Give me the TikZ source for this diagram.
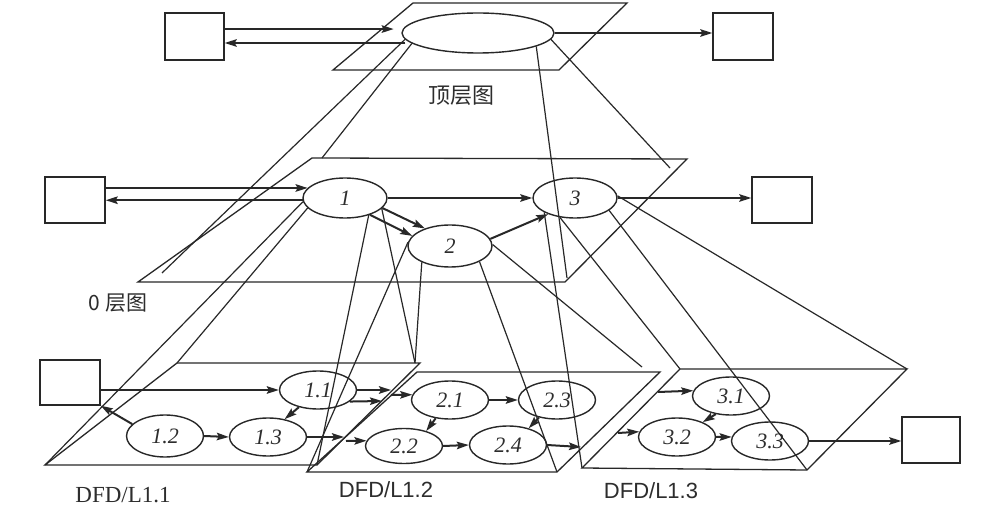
\documentclass[tikz,border=0pt]{standalone}
\usepackage{fontspec}
\setmainfont{Liberation Serif}
\newfontfamily\sansf{Liberation Sans}
\newfontfamily\cjkf{Noto Sans CJK SC}
\usetikzlibrary{shapes.geometric,arrows.meta}
\definecolor{lc}{RGB}{40,40,40}
\definecolor{tc}{RGB}{45,45,45}
\begin{document}
\begin{tikzpicture}[x=1pt,y=-1pt,
  plane/.style={draw=lc,line width=1.3pt,line join=miter},
  proj/.style={draw=lc,line width=1.2pt},
  arr/.style={draw=lc,line width=2pt,-{Stealth[length=12pt,width=7.5pt,inset=2pt]}},
  proc/.style={ellipse,draw=lc,line width=1.4pt,inner sep=0pt,minimum width=77pt,minimum height=38pt,font=\fontsize{22}{22}\selectfont\itshape,text=tc},
  ext/.style={rectangle,draw=lc,line width=1.4pt,inner sep=0pt,minimum width=60pt,minimum height=46pt},
  lab/.style={text=tc,inner sep=0pt}]
\fill[white] (0,0) rectangle (989,513);
\useasboundingbox (0,0) rectangle (989,513);

% ---------- planes ----------
\coordinate (tp1) at (333,70);  \coordinate (tp2) at (559,70);
\coordinate (tp3) at (627,3);   \coordinate (tp4) at (413,3);
\coordinate (zp1) at (138,282); \coordinate (zp2) at (565,282);
\coordinate (zp3) at (687,159); \coordinate (zp4) at (312,158);
\coordinate (ap1) at (45,465);  \coordinate (ap2) at (317,465);
\coordinate (ap3) at (420,363); \coordinate (ap4) at (177,363);
\coordinate (bp1) at (307,472); \coordinate (bp2) at (557,472);
\coordinate (bp3) at (660,372); \coordinate (bp4) at (417,372);
\coordinate (cp1) at (582,468); \coordinate (cp2) at (807,470);
\coordinate (cp3) at (907,369); \coordinate (cp4) at (680,369);
\draw[plane] (tp1) -- (tp2) -- (tp3) -- (tp4) -- cycle;
\draw[plane] (zp1) -- (zp2) -- (zp3) -- (zp4) -- cycle;
\draw[plane] (ap1) -- (ap2) -- (ap3) -- (ap4) -- cycle;
\draw[plane] (bp1) -- (bp2) -- (bp3) -- (bp4) -- cycle;
\draw[plane] (cp1) -- (cp2) -- (cp3) -- (cp4) -- cycle;

% ---------- top level ----------
\node[ext,minimum width=59pt,minimum height=47pt] (bTL) at (194.5,36.5) {};
\node[ext,minimum width=60pt,minimum height=47pt] (bTR) at (743,36.5) {};
\node[proc,minimum width=152pt,minimum height=40pt] (T) at (478,33) {};
\node[lab,font=\cjkf\fontsize{22}{22}\selectfont] (lt) at (461,96) {顶层图};

% ---------- level 0 ----------
\node[ext] (bL0) at (75,200) {};
\node[ext] (bR0) at (782,200) {};
\node[proc,minimum width=84pt,minimum height=40pt] (E1) at (345,198) {1};
\node[proc,minimum width=84pt,minimum height=42pt] (E2) at (450,246) {2};
\node[proc,minimum width=84pt,minimum height=40pt] (E3) at (575,198) {3};
\node[lab,font=\cjkf\fontsize{21}{21}\selectfont] (l0) at (118,303) {0 层图};

% ---------- level 1 ----------
\node[ext,minimum height=45pt] (bL1) at (70,382.5) {};
\node[ext,minimum width=58pt] (bR1) at (931,440) {};
\node[proc] (e11) at (318,390) {1.1};
\node[proc,minimum height=42pt] (e12) at (165,436) {1.2};
\node[proc] (e13) at (268,437) {1.3};
\node[proc] (e21) at (450,400) {2.1};
\node[proc,minimum height=35pt] (e22) at (404,446) {2.2};
\node[proc] (e23) at (557,400) {2.3};
\node[proc] (e24) at (508,445) {2.4};
\node[proc] (e31) at (731,396) {3.1};
\node[proc] (e32) at (677,437) {3.2};
\node[proc] (e33) at (770,441) {3.3};
\node[lab,font=\fontsize{23}{23}\selectfont] (l11) at (123,495) {DFD/L1.1};
\node[lab,font=\sansf\fontsize{22}{22}\selectfont] (l12) at (386,490) {DFD/L1.2};
\node[lab,font=\sansf\fontsize{22}{22}\selectfont] (l13) at (651,491) {DFD/L1.3};

% ---------- projection lines ----------
\coordinate (pA) at (162,273); \coordinate (pB) at (322,158);
\coordinate (pC) at (567,278); \coordinate (pD) at (670,168);
\coordinate (pE) at (415,363); \coordinate (pF) at (642,367);
\draw[proj] (T.185) -- (pA);
\draw[proj] (T.189) -- (pB);
\draw[proj] (T.-13) -- (pC);
\draw[proj] (T.-5) -- (pD);
\draw[proj] (E1.185) -- (ap1);
\draw[proj] (E1.195) -- (ap4);
\draw[proj] (E1.-16) -- (pE);
\draw[proj] (E1.-36) -- (ap2);
\draw[proj] (E2.210) -- (pE);
\draw[proj] (E2.175) -- (bp1);
\draw[proj] (E2.2) -- (pF);
\draw[proj] (E2.-28) -- (bp2);
\draw[proj] (E3.232) -- (cp4);
\draw[proj] (E3.205) -- (cp1);
\draw[proj] (E3.-20) -- (cp2);
\draw[proj] (E3.3) -- (cp3);

% ---------- top level flows ----------
\coordinate (tL) at ([xshift=4pt,yshift=-10pt]T.west);
\draw[arr,shorten >=9pt] (T.177 -| bTL.east) -- (T.177);
\draw[arr] (tL) -- (tL -| bTL.east);
\draw[arr] (T.east) -- (T.east -| bTR.west);

% ---------- level 0 flows ----------
\draw[arr] (E1.165 -| bL0.east) -- (E1.165);
\draw[arr] (E1.183) -- (E1.183 -| bL0.east);
\draw[arr] (E1.east) -- (E3.west);
\draw[arr] (E3.east) -- (E3.east -| bR0.west);
\draw[arr] (E1.-15) -- (E2.145);
\draw[arr] (E1.-34) -- (E2.165);
\draw[arr] (E2.10) -- (E3.211);

% ---------- level 1 flows ----------
\coordinate (o11a) at (391,390); \coordinate (o11b) at (382,401);
\coordinate (o13) at (344,437);  \coordinate (i21) at (391,395);
\coordinate (i22) at (346,441);  \coordinate (o24) at (581,447);
\coordinate (i31) at (658,392);  \coordinate (i32) at (618,433);
\draw[arr] (e11.west -| bL1.east) -- (e11.west);
\draw[arr] (e12.160) -- (bL1.south east);
\draw[arr] (e12.east) -- (e13.west);
\draw[arr] (e11.222) -- (e13.47);
\draw[arr] (e11.east) -- (o11a);
\draw[arr] (e11.-20) -- (o11b);
\draw[arr] (e13.east) -- (o13);
\draw[arr] (i21) -- (e21.172);
\draw[arr] (i22) -- (e22.172);
\draw[arr] (e21.east) -- (e23.west);
\draw[arr] (e21.232) -- (e22.34);
\draw[arr] (e22.east) -- (e24.west);
\draw[arr] (e23.224) -- (e24.39);
\draw[arr] (e24.east) -- (o24);
\draw[arr] (i31) -- (e31.172);
\draw[arr] (i32) -- (e32.172);
\draw[arr] (e31.230) -- (e32.30);
\draw[arr] (e32.east) -- (e33.174);
\draw[arr] (e33.east) -- (e33.east -| bR1.west);
\end{tikzpicture}
\end{document}
